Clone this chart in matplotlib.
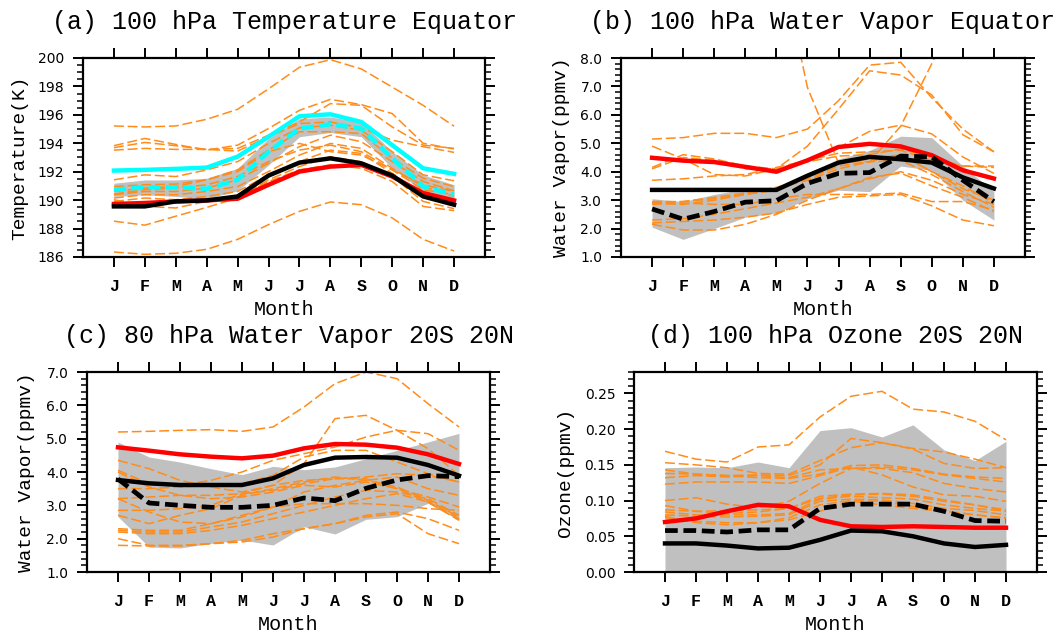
import numpy as np
import matplotlib
matplotlib.use("Agg")
import matplotlib.pyplot as plt
from matplotlib.ticker import MultipleLocator, FormatStrFormatter

months = np.arange(1, 13)
month_labels = ["J", "F", "M", "A", "M", "J", "J", "A", "S", "O", "N", "D"]

# ---- (a) 100 hPa temperature, equator ----
a_black = [189.56, 189.56, 189.91, 189.98, 190.26, 191.73, 192.64, 192.94, 192.59, 191.73, 190.26, 189.68]
a_red = [189.73, 189.80, 189.91, 189.98, 190.10, 191.08, 192.01, 192.36, 192.48, 191.66, 190.50, 189.98]
a_cyan = [192.08, 192.13, 192.20, 192.29, 193.06, 194.46, 195.90, 196.04, 195.50, 193.87, 192.24, 191.85]
a_cyan_dash = [190.73, 190.91, 190.89, 190.80, 191.43, 193.40, 195.04, 195.34, 195.04, 192.94, 190.96, 190.38]
a_band_hi = [191.19, 191.42, 191.42, 191.54, 192.24, 194.34, 195.74, 195.85, 195.50, 193.41, 191.77, 191.08]
a_band_lo = [190.26, 190.38, 190.26, 190.10, 190.66, 192.47, 194.46, 194.76, 194.46, 192.24, 190.61, 190.15]
a_models = [
    [195.22, 195.15, 195.22, 195.69, 196.39, 197.83, 199.35, 199.88, 199.23, 197.95, 196.67, 195.20],
    [186.35, 186.19, 186.26, 186.54, 187.24, 188.28, 189.21, 189.87, 189.68, 188.75, 187.24, 186.42],
    [188.52, 188.24, 188.87, 189.49, 190.15, 191.31, 192.13, 192.48, 192.24, 191.31, 189.56, 189.26],
    [193.83, 194.34, 193.92, 193.52, 193.87, 195.04, 196.32, 197.09, 196.72, 196.09, 194.00, 193.60],
    [193.69, 194.06, 193.83, 193.57, 193.64, 194.57, 195.50, 196.79, 196.67, 195.15, 193.87, 193.64],
    [193.52, 193.64, 193.57, 193.57, 193.45, 194.46, 195.39, 195.50, 195.08, 194.22, 193.76, 193.36],
    [191.43, 191.78, 191.66, 192.13, 192.71, 193.99, 195.08, 195.27, 194.92, 193.41, 191.78, 191.36],
    [190.96, 191.08, 191.13, 191.43, 192.13, 193.52, 194.81, 194.81, 194.69, 192.94, 191.54, 190.96],
    [190.38, 190.61, 190.61, 190.85, 191.43, 192.59, 193.76, 194.57, 194.11, 192.71, 191.31, 190.66],
    [190.43, 190.73, 190.85, 191.08, 191.66, 192.71, 193.52, 193.87, 193.41, 192.13, 191.08, 190.61],
    [190.15, 190.38, 190.38, 190.61, 190.96, 192.01, 193.17, 193.99, 193.64, 192.24, 190.96, 190.26],
    [189.91, 190.15, 190.03, 190.26, 190.61, 191.78, 192.71, 193.52, 193.29, 191.89, 190.38, 189.80],
    [190.03, 189.56, 189.45, 189.91, 190.15, 191.43, 192.36, 193.06, 192.71, 191.66, 189.91, 189.40],
    [190.61, 190.85, 190.96, 191.43, 192.01, 193.41, 193.99, 193.41, 193.17, 192.13, 190.73, 190.38],
]

# ---- (b) 100 hPa water vapor, equator ----
b_black = [3.36, 3.36, 3.36, 3.36, 3.36, 3.86, 4.32, 4.52, 4.44, 4.32, 3.80, 3.41]
b_black_dash = [2.69, 2.33, 2.60, 2.93, 2.98, 3.59, 3.94, 3.97, 4.55, 4.52, 3.70, 2.95]
b_red = [4.49, 4.39, 4.34, 4.17, 4.00, 4.40, 4.87, 4.98, 4.89, 4.58, 4.05, 3.76]
b_band_hi = [3.05, 2.95, 3.20, 3.40, 3.45, 3.95, 4.45, 4.75, 5.25, 5.20, 4.20, 3.30]
b_band_lo = [2.05, 1.62, 2.00, 2.40, 2.55, 3.05, 3.35, 3.30, 4.20, 4.05, 3.00, 2.30]
b_models = [
    [11.5, 11.8, 12.0, 12.0, 12.1, 6.96, 4.30, 4.45, 4.60, 4.00, 3.40, 3.00],
    [2.90, 2.95, 3.05, 3.20, 3.40, 3.70, 4.10, 4.35, 5.60, 7.80, 10.0, 11.0],
    [5.15, 5.20, 5.35, 5.35, 5.20, 5.50, 6.50, 7.75, 7.85, 6.60, 5.50, 4.70],
    [4.90, 4.45, 3.90, 3.85, 4.10, 4.90, 6.20, 7.55, 7.40, 6.70, 5.30, 4.70],
    [4.15, 4.60, 4.45, 4.20, 4.10, 4.40, 4.85, 5.42, 5.64, 5.33, 4.52, 3.94],
    [3.70, 3.75, 3.85, 3.90, 4.15, 4.40, 4.65, 4.70, 4.75, 4.40, 4.20, 4.15],
    [4.10, 4.50, 4.40, 4.10, 4.05, 4.35, 4.55, 4.60, 4.80, 4.50, 4.20, 4.20],
    [2.95, 2.95, 3.10, 3.25, 3.45, 3.75, 4.20, 4.35, 4.60, 4.00, 3.50, 2.90],
    [2.90, 2.85, 3.00, 3.20, 3.35, 3.90, 4.35, 4.35, 4.40, 3.90, 3.30, 2.75],
    [2.85, 2.90, 2.85, 2.85, 3.05, 3.20, 3.20, 3.20, 3.25, 2.95, 2.95, 2.65],
    [2.30, 2.35, 2.50, 2.70, 2.90, 3.10, 3.40, 3.75, 4.00, 3.70, 3.20, 2.85],
    [2.20, 2.25, 2.30, 2.40, 2.55, 2.85, 3.10, 3.15, 3.20, 2.80, 2.30, 2.10],
    [2.15, 1.95, 1.95, 2.15, 2.50, 3.00, 3.40, 3.80, 3.95, 3.50, 3.10, 2.60],
]

# ---- (c) 80 hPa water vapor, 20S-20N ----
c_black = [3.76, 3.66, 3.61, 3.61, 3.61, 3.81, 4.21, 4.43, 4.45, 4.43, 4.21, 3.89]
c_black_dash = [3.79, 3.07, 3.00, 2.94, 2.94, 3.00, 3.22, 3.14, 3.51, 3.76, 3.89, 3.86]
c_red = [4.74, 4.64, 4.53, 4.46, 4.41, 4.49, 4.71, 4.84, 4.82, 4.73, 4.53, 4.24]
c_band_hi = [4.90, 4.45, 4.30, 4.10, 3.92, 4.17, 4.07, 4.15, 4.40, 4.65, 4.90, 5.16]
c_band_lo = [2.66, 1.75, 1.72, 1.86, 1.96, 1.81, 2.36, 2.14, 2.58, 2.66, 3.06, 2.56]
c_models = [
    [5.20, 5.22, 5.25, 5.27, 5.22, 5.35, 5.95, 6.65, 7.00, 6.80, 6.05, 5.35],
    [4.35, 4.10, 3.75, 3.55, 3.40, 3.60, 4.25, 5.60, 5.70, 5.25, 4.70, 3.90],
    [4.05, 3.65, 3.60, 3.75, 4.00, 4.35, 4.55, 4.75, 5.05, 5.25, 5.15, 4.65],
    [3.50, 3.50, 3.55, 3.60, 3.65, 3.90, 4.45, 4.65, 4.65, 4.30, 3.95, 3.70],
    [3.20, 3.25, 3.30, 3.30, 3.35, 3.45, 3.65, 3.80, 3.85, 3.95, 3.90, 3.70],
    [3.20, 2.80, 2.50, 2.45, 2.65, 2.95, 3.40, 3.60, 3.75, 3.85, 3.50, 3.30],
    [2.85, 2.85, 2.90, 3.00, 3.35, 3.60, 3.75, 3.80, 3.80, 3.50, 3.10, 2.60],
    [2.70, 2.45, 2.70, 2.90, 3.30, 3.50, 3.70, 3.85, 3.75, 3.55, 3.15, 2.65],
    [2.30, 2.25, 2.25, 2.45, 2.70, 2.95, 3.05, 3.05, 3.05, 3.00, 2.90, 2.85],
    [2.25, 2.20, 2.20, 2.35, 2.50, 2.75, 3.00, 3.25, 3.45, 3.40, 3.20, 2.70],
    [2.20, 2.15, 2.15, 2.25, 2.40, 2.60, 2.80, 3.00, 3.20, 3.35, 3.10, 2.55],
    [2.00, 1.80, 1.80, 1.85, 1.95, 2.15, 2.30, 2.45, 2.70, 2.80, 2.60, 2.25],
    [1.80, 1.78, 1.78, 1.85, 1.90, 2.05, 2.30, 2.45, 2.65, 2.75, 2.15, 1.85],
    [4.00, 3.55, 3.30, 3.20, 3.25, 3.40, 3.60, 3.55, 3.70, 3.50, 3.25, 2.95],
]

# ---- (d) 100 hPa ozone, 20S-20N ----
d_black = [0.040, 0.040, 0.037, 0.033, 0.034, 0.045, 0.058, 0.057, 0.050, 0.040, 0.035, 0.038]
d_black_dash = [0.058, 0.058, 0.056, 0.059, 0.059, 0.089, 0.095, 0.095, 0.095, 0.085, 0.072, 0.071]
d_red = [0.070, 0.075, 0.085, 0.094, 0.092, 0.073, 0.064, 0.063, 0.064, 0.063, 0.062, 0.062]
d_band_hi = [0.146, 0.147, 0.146, 0.154, 0.146, 0.198, 0.202, 0.189, 0.206, 0.171, 0.156, 0.183]
d_band_lo = [0.0] * 12
d_models = [
    [0.169, 0.158, 0.154, 0.175, 0.178, 0.217, 0.246, 0.253, 0.228, 0.224, 0.211, 0.185],
    [0.153, 0.150, 0.146, 0.138, 0.137, 0.156, 0.174, 0.181, 0.173, 0.168, 0.158, 0.146],
    [0.143, 0.137, 0.135, 0.136, 0.135, 0.150, 0.187, 0.181, 0.172, 0.152, 0.145, 0.146],
    [0.138, 0.137, 0.135, 0.132, 0.131, 0.137, 0.149, 0.150, 0.145, 0.137, 0.133, 0.131],
    [0.132, 0.135, 0.133, 0.135, 0.132, 0.143, 0.145, 0.147, 0.143, 0.136, 0.131, 0.126],
    [0.123, 0.126, 0.126, 0.126, 0.124, 0.135, 0.147, 0.136, 0.119, 0.108, 0.106, 0.099],
    [0.100, 0.104, 0.095, 0.090, 0.099, 0.124, 0.145, 0.145, 0.139, 0.124, 0.117, 0.112],
    [0.093, 0.085, 0.082, 0.084, 0.089, 0.103, 0.108, 0.109, 0.106, 0.099, 0.094, 0.087],
    [0.087, 0.085, 0.086, 0.087, 0.089, 0.106, 0.109, 0.110, 0.108, 0.101, 0.094, 0.085],
    [0.084, 0.080, 0.080, 0.080, 0.082, 0.102, 0.106, 0.104, 0.102, 0.094, 0.089, 0.085],
    [0.080, 0.078, 0.077, 0.078, 0.080, 0.099, 0.102, 0.101, 0.096, 0.089, 0.086, 0.080],
    [0.076, 0.071, 0.069, 0.069, 0.076, 0.094, 0.100, 0.099, 0.092, 0.086, 0.080, 0.076],
    [0.078, 0.069, 0.066, 0.069, 0.073, 0.085, 0.099, 0.094, 0.089, 0.085, 0.080, 0.075],
]

ORANGE = "#ff8c1a"
MONO = "Liberation Mono"


def panel(ax, title, ylabel, ylim, major, minor, fmt, band_lo, band_hi, models,
          black=None, black_dash=None, red=None, cyan=None, cyan_dash=None, ylab_x=-0.15):
    ax.fill_between(months, band_lo, band_hi, color="#c0c0c0", lw=0, zorder=1)
    for m in models:
        ax.plot(months, m, color=ORANGE, lw=1.1, dashes=(6.5, 2.5), zorder=2)
    if cyan_dash is not None:
        ax.plot(months, cyan_dash, color="cyan", lw=3.2, dashes=(2.7, 1.2), zorder=3)
    if cyan is not None:
        ax.plot(months, cyan, color="cyan", lw=3.2, zorder=3)
    if red is not None:
        ax.plot(months, red, color="red", lw=3.2, zorder=4)
    if black_dash is not None:
        ax.plot(months, black_dash, color="black", lw=3.4, dashes=(2.7, 1.2), zorder=5)
    if black is not None:
        ax.plot(months, black, color="black", lw=3.2, zorder=5)

    ax.set_xlim(0, 13)
    ax.set_ylim(*ylim)
    ax.set_xticks(months)
    ax.set_xticklabels(month_labels, fontfamily=MONO, fontweight="bold", fontsize=12)
    ax.yaxis.set_major_locator(MultipleLocator(major))
    ax.yaxis.set_minor_locator(MultipleLocator(minor))
    ax.yaxis.set_major_formatter(FormatStrFormatter(fmt))
    for lab in ax.get_yticklabels():
        lab.set_fontfamily("DejaVu Sans")
        lab.set_fontsize(10)
    ax.tick_params(axis="x", which="major", direction="out", length=7.5, width=1.4,
                   top=True, bottom=True, pad=8)
    ax.tick_params(axis="x", which="minor", bottom=False, top=False)
    ax.tick_params(axis="y", which="major", direction="out", length=7.5, width=1.4,
                   left=True, right=True, pad=6)
    ax.tick_params(axis="y", which="minor", direction="out", length=4.5, width=1.1,
                   left=True, right=True)
    for s in ax.spines.values():
        s.set_linewidth(1.6)

    ax.set_xlabel("Month", fontfamily=MONO, fontsize=14.5)
    ax.xaxis.set_label_coords(0.5, -0.265)
    ax.xaxis.label.set_va("center")
    ax.set_ylabel(ylabel, fontfamily=MONO, fontsize=14)
    ax.yaxis.set_label_coords(ylab_x, 0.5)
    ax.yaxis.label.set_va("center")
    ax.text(0.5, 1.18, title, transform=ax.transAxes, ha="center", va="center",
            fontfamily=MONO, fontsize=18)


W, H = 1057, 633
fig = plt.figure(figsize=(W / 100, H / 100), dpi=100)

ax_a = fig.add_axes([83 / W, 1 - 257 / H, 402 / W, 199 / H])
ax_b = fig.add_axes([621 / W, 1 - 257 / H, 404 / W, 199 / H])
ax_c = fig.add_axes([87 / W, 1 - 572 / H, 403 / W, 200 / H])
ax_d = fig.add_axes([634 / W, 1 - 572 / H, 403 / W, 200 / H])

panel(ax_a, "(a) 100 hPa Temperature Equator", "Temperature(K)", (186, 200), 2, 0.5, "%d",
      a_band_lo, a_band_hi, a_models, black=a_black, red=a_red, cyan=a_cyan,
      cyan_dash=a_cyan_dash, ylab_x=-0.157)
panel(ax_b, "(b) 100 hPa Water Vapor Equator", "Water Vapor(ppmv)", (1, 8), 1, 0.2, "%.1f",
      b_band_lo, b_band_hi, b_models, black=b_black, black_dash=b_black_dash, red=b_red,
      ylab_x=-0.147)
panel(ax_c, "(c) 80 hPa Water Vapor 20S 20N", "Water Vapor(ppmv)", (1, 7), 1, 0.2, "%.1f",
      c_band_lo, c_band_hi, c_models, black=c_black, black_dash=c_black_dash, red=c_red,
      ylab_x=-0.149)
panel(ax_d, "(d) 100 hPa Ozone 20S 20N", "Ozone(ppmv)", (0, 0.28), 0.05, 0.01, "%.2f",
      d_band_lo, d_band_hi, d_models, black=d_black, black_dash=d_black_dash, red=d_red,
      ylab_x=-0.17)

fig.savefig("out.png", dpi=100)
